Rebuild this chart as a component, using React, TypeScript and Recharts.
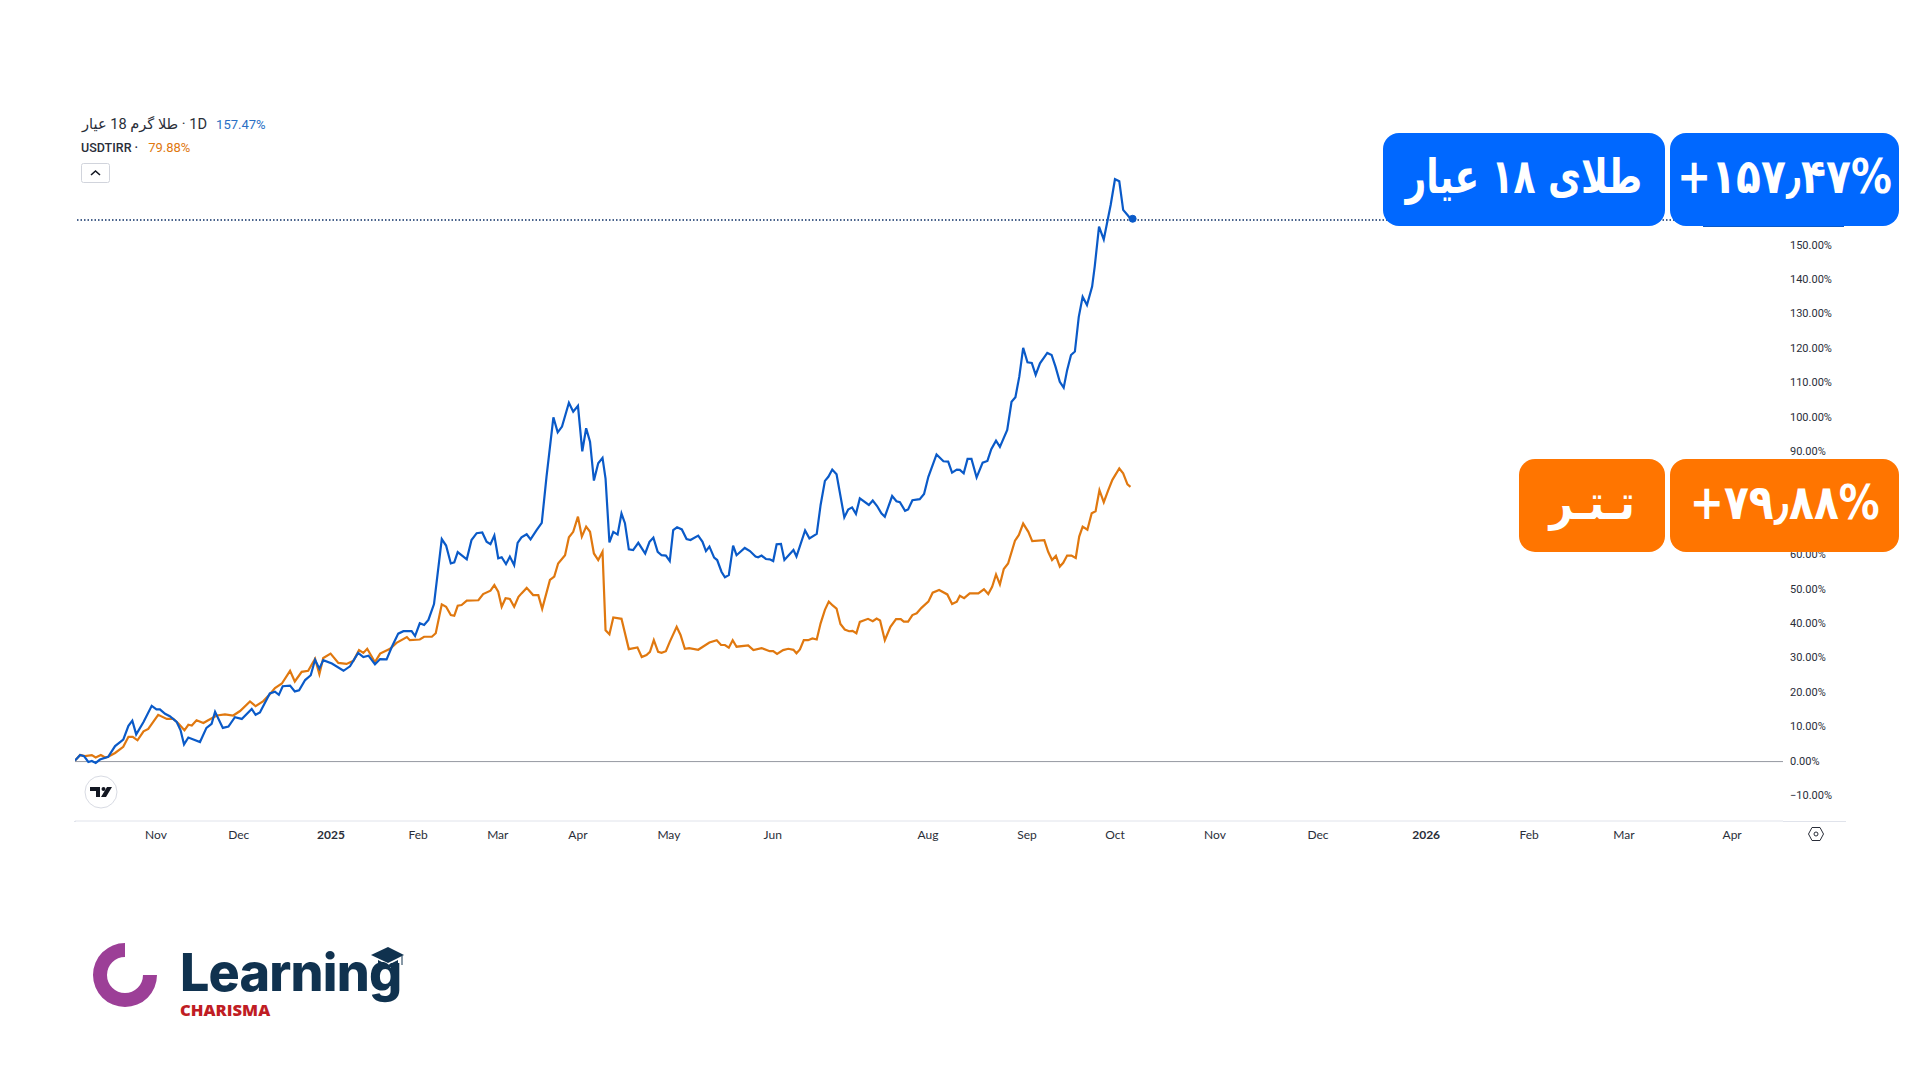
import { LineChart, Line, XAxis, YAxis, ReferenceLine, ReferenceDot } from "recharts";

// x is the bar number on the chart, y is % change since the first bar
const goldBars = [0,1.2,2.1,3.1,3.9,4.8,5.8,7.7,9.3,11.2,12.4,13.3,14.2,15.9,17.8,18.9,19.7,20.9,22,23.6,24.5,25.3,26.3,29,30.5,31.7,32.5,34.3,35.6,37.1,38.7,41,41.9,42.9,45.2,46.4,47.3,48.2,49.9,51,52,53.4,54.7,55.7,56.7,57.6,59.6,62.3,63.8,65.7,66.9,68.1,69.6,70.8,72.3,73.5,75,76.2,78.1,78.9,80,81,82,83.3,85.1,86.1,87.2,88,88.8,90.9,92,93.2,94.5,95.5,96.4,97.3,98.2,99,100,100.9,101.9,102.7,103.6,104.8,105.7,107.1,108.3,109.4,111,112,113,114.6,115.6,116.7,117.7,118.6,119.5,120.4,121.4,122.4,123.1,124,124.9,125.9,126.8,127.6,128.5,129.5,130.7,132.3,133.3,134.2,135.2,136.1,137.1,138,138.8,139.7,140.8,141.9,142.8,144.6,145.6,146.4,147.2,148.3,149,150,150.8,151.7,152.7,153.5,155.4,156.6,157.9,158.5,159.3,160.3,161.2,162,162.8,163.8,164.6,166.7,167.4,169.4,170.4,172.1,173,174,174.8,175.7,176.7,178.5,179.4,180.3,181.2,182.1,184.2,185.1,186.1,187.1,187.9,189.6,190.6,191.4,192.6,193.3,194.3,196,197,198,199.9,201.5,202.6,203.5,204.6,205.3,206.2,207.1,208,209.2,210.6,211.7,212.6,213.7,214.6,216.3,217.3,218.2,219.1,220,221,222,222.9,223.9,225.6,226.6,227.5,228.5,229.4,230.2,231.1,232,232.9,233.8,234.8,236,236.6,237.6,238.7,240.3,241.3,242.3,243.2,244.4,245.1];
const goldPct = [0.3,1.9,1.6,-0.1,0.2,-0.4,0.6,1.4,4.5,6.4,10.4,11.9,7.9,11.5,16.2,15.2,15.2,13.9,13.2,11.5,9.1,5,7,5.7,9.8,11,14.5,9.8,10.2,12.9,12.4,15.3,13.6,14.3,19.8,20.3,19.4,21.9,22.1,20.4,20.7,23.7,25.1,29.6,27,29.5,28.5,26.4,27.7,31.6,30.4,30.8,28.3,29.8,29.7,33.3,37.2,37.9,37.9,36.5,40.2,39.7,41.2,45.8,64.7,62.8,57.6,57.9,60.9,58.8,64.4,66.4,66.6,63.9,63.2,65.7,59.1,59.4,57.4,59.6,57.1,63.6,65.2,66.1,64.6,67.3,69.4,82.8,100.1,95.7,97.4,104.3,101.7,103.4,90.2,96.9,93,81.7,86.7,88.3,82.3,63.7,66.8,66,72.1,69.3,61.7,61.5,63.6,60.5,63.9,65.1,61,60,59.9,58.3,67.3,68.1,67.5,64.7,64.4,65.7,63.9,61.2,62.5,59.3,58.6,55.2,53.6,54.2,62.8,60,62.1,61.2,59.6,59.4,59.9,58.9,58.8,58.3,63.2,63.3,58.6,61.5,59.6,67.2,64.9,66.2,74.6,81.6,82.8,84.9,83.5,71,73.3,73.9,72,76.5,74.6,75.9,74.3,72.2,71.2,77.2,75.7,75.4,72.9,73.3,76,76.3,77.8,82.8,89.3,87.3,87.2,84,84.9,84.8,83.8,88,88,82.6,86.9,87.4,90.8,93.3,91.5,96.4,104.6,105.9,111.9,120.3,116.1,115.9,112.4,115.8,118.8,118.2,114.8,110.4,108.7,113.8,118.2,119.2,129.3,135.1,132.7,138.1,143.9,155.5,151.8,161.8,169.3,168.7,160.4,158.6,157.47];

const usdtBars = [0,1.2,2.3,3.9,4.8,6,7,7.7,9.3,11.2,12.4,13.4,14.5,15.9,17,19.3,21.3,22.8,24,25.4,26.3,27.1,28.2,29.8,30.9,32.9,34.8,36.7,38.3,40.6,41.9,43.7,45.2,46.4,48,49.9,51,52.6,54.1,55.7,56.7,57.6,59.3,61.1,63,64.6,65.9,66.9,67.8,69.6,70.8,73.1,74.6,77,77.7,80,81,82.8,83.7,85.1,86.1,87.2,88,88.8,89.7,90.9,93.6,94.7,96.4,97.3,98.2,99,99.9,100.9,101.9,102.9,103.6,104.8,106.3,107.5,108.4,110.2,111.2,112.1,113.7,114.6,115.6,116.7,117.6,118.6,119.5,120.4,121.4,122.4,123.1,124,124.9,126.8,128.5,130.5,131.5,132.6,133.4,134.3,135.3,136.1,137.1,138,139.6,140.5,141.5,142.5,144.6,147.2,148.9,149.9,150.8,151.7,152.6,153.5,156.2,157.4,159.3,161.2,162,162.9,164.3,165.5,166.7,167.4,168.2,169.1,170.1,171.1,172.1,173,174,174.9,175.8,176.7,177.6,178.6,179.6,180.4,181.3,182.1,184,185.1,186,186.8,187.9,189.2,190.5,191.6,192.3,193.3,194.3,195.3,196.4,198,199,200.5,202.4,203.5,204.6,205.3,206.3,207.6,209.6,210.9,211.9,212.8,213.7,214.6,215.5,216.5,218.1,219,220,221.2,222.1,224.9,225.8,226.7,227.6,228.5,229.3,230.2,231.2,232.2,233,233.8,234.9,235.9,236.8,237.7,238.7,239.7,240.7,242.3,243.2,244.2,244.9];
const usdtPct = [0.3,1.9,1.6,1.9,1.2,1.9,1.2,1.4,2.5,4.3,7.2,7.2,6.2,8.8,9.5,13.6,12.4,12.4,11.1,9.1,10.7,10.5,12,11.2,12,13.4,13.7,13.4,14.7,17.5,16.1,17.6,19.6,21.4,22.7,26.4,23.3,26.1,26.4,29.9,25.4,30.1,31.4,28.7,28.4,29.3,32.4,31.6,32.8,28.9,31.4,32.8,34.5,36.2,35.3,35.5,36.3,36.3,37.3,45.7,45,42.6,42.4,45.3,45.5,46.8,46.9,48.7,49.7,51.3,49.4,45,47.5,47.3,45,47.9,48.9,50.5,48.4,48.4,44.4,52.8,53.8,57.6,60,65.2,66.8,71.2,65.4,68.3,66.8,60.5,58.6,61,38.2,37,41.9,41.5,32.7,33.2,30.4,31,31.9,35.3,31.9,31.6,32.1,34.8,39.2,36.8,32.8,33,32.5,34.6,35.3,33.9,33.9,33.1,35.3,33.4,33.8,32.4,33,32.1,32.1,31.3,32.4,32.8,32.5,31.5,32.6,35.3,35.3,35.8,35.5,40.2,44.1,46.5,45.4,44.5,40,38.4,37.9,38,37.3,40.6,41.5,40.8,41.6,41,35.3,39.2,41.4,41.4,40.7,40.7,42.6,43.1,44.7,46.5,49.1,49.9,48.6,45.8,46.5,48.2,47.5,48.9,48.9,50.1,48.7,50.8,54.4,51.5,56,57.6,64.2,65.9,69.2,66.8,64.1,64.4,61,58.6,59.8,56.7,57.8,59.9,59.9,59.2,65.4,68.3,67.4,72.2,72.8,78.9,75.4,78.8,81.9,85.2,83.8,80.6,79.88];

const monthTicks = [18.8,38,59.4,79.6,98.1,116.7,137.8,161.9,197.9,220.9,241.3,264.5,288.4,313.5,337.4,359.4,384.5];
const monthLabels = ["Nov","Dec","2025","Feb","Mar","Apr","May","Jun","Aug","Sep","Oct","Nov","Dec","2026","Feb","Mar","Apr"];
const pctTicks = [-10,0,10,20,30,40,50,60,70,80,90,100,110,120,130,140,150,160];

const goldRows = goldBars.map((bar, i) => ({ bar, pct: goldPct[i] }));
const usdtRows = usdtBars.map((bar, i) => ({ bar, pct: usdtPct[i] }));

const BLUE = "#0a5ac8";
const ORANGE = "#e0780f";

function MonthTick({ x, y, payload }: any) {
  const i = monthTicks.indexOf(payload.value);
  const label = monthLabels[i];
  const bold = label === "2025" || label === "2026";
  return (
    <text x={x} y={y} textAnchor="middle" fontFamily="Lato" fontSize={12} fontWeight={bold ? 700 : 400} fill="#2a2e39">
      {label}
    </text>
  );
}

function PctTick({ x, y, payload }: any) {
  const v = payload.value;
  const label = v < 0 ? `−${Math.abs(v).toFixed(2)}%` : `${v.toFixed(2)}%`;
  return (
    <text x={x} y={y + 3} textAnchor="start" fontFamily="Roboto" fontSize={11} fill="#2a2e39">
      {label}
    </text>
  );
}

function Box({ left, width, top, color, squeeze = 0.85, children }: any) {
  return (
    <div
      style={{
        position: "absolute",
        left,
        top,
        width,
        height: 93,
        background: color,
        borderRadius: 16,
        color: "#fff",
        fontFamily: "'DejaVu Sans'",
        fontWeight: 700,
        fontSize: 48,
        display: "flex",
        alignItems: "center",
        justifyContent: "center",
        whiteSpace: "nowrap",
      }}
    >
      <span style={{ display: "inline-block", transform: `scaleX(${squeeze}) translateY(-4px)` }}>{children}</span>
    </div>
  );
}

function Logo() {
  return (
    <svg style={{ position: "absolute", left: 80, top: 930 }} width={340} height={100}>
      <path d="M45 13 A32 32 0 1 0 77 45 L63 45 A18 18 0 1 1 45 27 Z" fill="#9c3f97" />
      <text x={100} y={61} fontFamily="Inter" fontSize={52} fontWeight={800} fill="#10324f" letterSpacing={-0.8}>
        Learning
      </text>
      <text x={100} y={86} fontFamily="'Open Sans'" fontSize={16.6} fontWeight={800} fill="#c01d24">
        CHARISMA
      </text>
      <path d="M291 25 L308 17 L324 25 L308 33 Z M298 30 L308 35 L318 30 L318 37 L298 37 Z" fill="#10324f" />
      <path d="M322 26 L322 35" stroke="#10324f" strokeWidth={1} />
    </svg>
  );
}

export default function App() {
  return (
    <div style={{ position: "absolute", left: 0, top: 0, width: 1920, height: 1086, background: "#fff", overflow: "hidden" }}>
      <LineChart width={1920} height={1086} margin={{ top: 100, right: 74, bottom: 235, left: 75 }}>
        <XAxis
          type="number"
          dataKey="bar"
          domain={[0, 396.3]}
          ticks={monthTicks}
          interval={0}
          allowDataOverflow
          height={30}
          tick={<MonthTick />}
          tickLine={false}
          tickMargin={12}
          axisLine={{ stroke: "#e0e3eb" }}
        />
        <YAxis
          orientation="right"
          type="number"
          domain={[-17.27, 192.33]}
          ticks={pctTicks}
          interval={0}
          allowDataOverflow
          width={63}
          tickLine={false}
          axisLine={false}
          tickMargin={1}
          tick={<PctTick />}
        />
        <ReferenceLine y={0} stroke="#9598a1" strokeWidth={1} />
        <ReferenceLine y={157.47} stroke="#0d2f66" strokeWidth={1.5} strokeDasharray="1.5 2" />
        <Line data={usdtRows} dataKey="pct" stroke={ORANGE} strokeWidth={2.2} dot={false} isAnimationActive={false} />
        <Line data={goldRows} dataKey="pct" stroke={BLUE} strokeWidth={2.2} dot={false} isAnimationActive={false} />
        <ReferenceDot x={245.4} y={157.8} r={3.5} fill={BLUE} stroke={BLUE} />
      </LineChart>

      <div style={{ position: "absolute", left: 74, top: 821, width: 2, height: 1, background: "#e0e3eb" }} />
      <div style={{ position: "absolute", left: 1783, top: 821, width: 63, height: 1, background: "#e0e3eb" }} />

      <div style={{ position: "absolute", left: 82, top: 115, fontFamily: "Roboto, 'DejaVu Sans'", fontSize: 14.6, color: "#2a2e39", whiteSpace: "nowrap", direction: "ltr" }}>
        <bdi>طلا گرم 18 عیار</bdi> · <bdi>1D</bdi>
        <span style={{ color: "#2a6fc4", fontSize: 13, marginLeft: 9 }}>157.47%</span>
      </div>
      <div style={{ position: "absolute", left: 81, top: 140, fontFamily: "Roboto", fontSize: 12.5, fontWeight: 500, color: "#2a2e39", whiteSpace: "nowrap" }}>
        USDTIRR ·<span style={{ color: ORANGE, fontSize: 13, fontWeight: 400, marginLeft: 10 }}>79.88%</span>
      </div>
      <svg style={{ position: "absolute", left: 81, top: 163 }} width={30} height={21}>
        <rect x={0.5} y={0.5} width={28} height={19} rx={2} fill="#fff" stroke="#d1d4dc" />
        <path d="M10 12 L14.5 8 L19 12" fill="none" stroke="#131722" strokeWidth={1.6} />
      </svg>

      <svg style={{ position: "absolute", left: 84, top: 775 }} width={34} height={34}>
        <circle cx={17} cy={17} r={16} fill="#fff" stroke="#d8dbe3" />
        <path d="M6 12 H16 V22 H12 V16 H6 Z M23 12 H28 L22 22 H17 Z" fill="#131722" />
        <circle cx={19.5} cy={14} r={2} fill="#131722" />
      </svg>

      <svg style={{ position: "absolute", left: 1807, top: 825 }} width={18} height={18}>
        <path d="M5 2.5 H13 L16.5 9 L13 15.5 H5 L1.5 9 Z" fill="none" stroke="#2a2e39" strokeWidth={1} />
        <circle cx={9} cy={9} r={2} fill="none" stroke="#2a2e39" strokeWidth={1} />
      </svg>

      <div style={{ position: "absolute", left: 1703, top: 222, width: 141, height: 5, background: "#0a5ac8" }} />

      <Box left={1383} width={282} top={133} color="#0068ff" squeeze={0.75}>طلای ۱۸ عیار</Box>
      <Box left={1670} width={229} top={133} color="#0068ff">
        <span style={{ direction: "ltr", unicodeBidi: "isolate" }}>+۱۵۷٫۴۷%</span>
      </Box>
      <Box left={1519} width={146} top={459} color="#ff7500">تـتـر</Box>
      <Box left={1670} width={229} top={459} color="#ff7500">
        <span style={{ direction: "ltr", unicodeBidi: "isolate" }}>+۷۹٫۸۸%</span>
      </Box>

      <Logo />
    </div>
  );
}
